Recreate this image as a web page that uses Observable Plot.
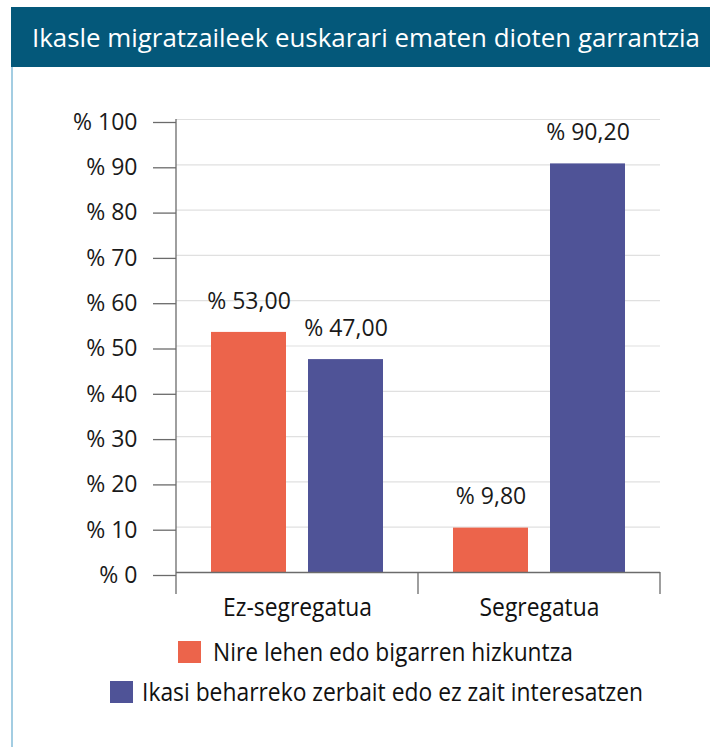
<!DOCTYPE html>
<html>
<head>
<meta charset="utf-8">
<script src="https://cdn.jsdelivr.net/npm/d3@7"></script>
<script src="https://cdn.jsdelivr.net/npm/@observablehq/plot@0.6"></script>
<style>
  html, body { margin: 0; padding: 0; background: #fff; }
  #wrap { position: relative; width: 712px; height: 747px; overflow: hidden; background: #fff; }
  #band { position: absolute; left: 11px; top: 7px; width: 699px; height: 60px; background: #04587a; }
  #leftline { position: absolute; left: 11px; top: 67px; width: 1.5px; height: 680px; background: #a3cde2; }
  .cond { font-family: "Open Sans", "Noto Sans", sans-serif; white-space: nowrap; }
  #title { position: absolute; left: 32px; top: 20px; color: #fff; font-size: 26px; line-height: 34px; display: inline-block; transform-origin: 0 50%; }
  #chart { position: absolute; left: 0; top: 68px; line-height: 0; }
  #chart svg { display: block; }
  .leg-sw { position: absolute; width: 23px; height: 22px; }
  .leg-tx { position: absolute; color: #111; font-size: 25px; line-height: 30px; display: inline-block; transform-origin: 0 50%; }
</style>
</head>
<body>
<div id="wrap">
  <div id="band"></div>
  <div id="leftline"></div>
  <div id="title" class="cond">Ikasle migratzaileek euskarari ematen dioten garrantzia</div>
  <div id="chart"></div>
  <div id="legend"></div>
</div>
<script>
// ---- data ----
const categories = ["Ez-segregatua", "Segregatua"];
const seriesNames = ["Nire lehen edo bigarren hizkuntza", "Ikasi beharreko zerbait edo ez zait interesatzen"];
const valuesNire = [53.00, 9.80];
const valuesIkasi = [47.00, 90.20];
const yTicks = [0, 10, 20, 30, 40, 50, 60, 70, 80, 90, 100];
const seriesColors = ["#ec644b", "#4f5397"];

const data = categories.flatMap((c, i) => [
  {cat: c, ser: seriesNames[0], v: valuesNire[i]},
  {cat: c, ser: seriesNames[1], v: valuesIkasi[i]}
]);
const fmt = v => "% " + v.toFixed(2).replace(".", ",");

const SANS = '"Open Sans", "Noto Sans", sans-serif';

const plot = Plot.plot({
  width: 712,
  height: 560,
  marginTop: 51,
  marginBottom: 56,
  marginLeft: 176,
  marginRight: 52,
  style: {fontFamily: SANS, fontSize: "23px", color: "#1a1a1a", background: "transparent", overflow: "visible"},
  fx: {domain: categories, paddingInner: 0, paddingOuter: 0, label: null, axis: null},
  x: {domain: seriesNames, paddingInner: 0.2245, paddingOuter: 0.347, axis: null},
  y: {domain: [0, 100], label: null, axis: null},
  color: {domain: seriesNames, range: seriesColors},
  marks: [
    Plot.gridY(yTicks.filter(t => t > 0), {stroke: "#e0e0e0", strokeOpacity: 1, strokeWidth: 1.2}),
    Plot.barY(data, {fx: "cat", x: "ser", y: "v", fill: "ser"}),
    Plot.ruleY([0], {stroke: "#6b6b6b", strokeWidth: 1.3}),
    Plot.axisY(yTicks, {
      tickSize: 23, tickPadding: 16, stroke: "#6b6b6b", strokeWidth: 1.3,
      tickFormat: d => "% " + d, fontSize: 23, dy: 3, label: null
    }),
    Plot.axisFx({anchor: "bottom", tickSize: 0, tickPadding: 26, label: null, fontSize: 25, fill: "#111"}),
    Plot.text(data, {fx: "cat", x: "ser", y: "v", text: d => fmt(d.v), dy: -31, fontSize: 23, fill: "#1a1a1a"})
  ]
});
document.getElementById("chart").appendChild(plot);

// axis line and category separators, positioned from the plot's own scales
const fxS = plot.scale("fx");
const yS = plot.scale("y");
const bw = fxS.bandwidth;
const xEdges = categories.map(c => fxS.apply(c)).concat([fxS.apply(categories[categories.length - 1]) + bw]);
const y0 = yS.apply(0), yTop = yS.apply(100);
const svg = d3.select(plot);
svg.append("line").attr("x1", xEdges[0]).attr("x2", xEdges[0]).attr("y1", yTop).attr("y2", y0 + 22)
  .attr("stroke", "#6b6b6b").attr("stroke-width", 1.3);
xEdges.slice(1).forEach(x => {
  svg.append("line").attr("x1", x).attr("x2", x).attr("y1", y0).attr("y2", y0 + 22)
    .attr("stroke", "#6b6b6b").attr("stroke-width", 1.3);
});

// legend (HTML, below the chart)
const legend = document.getElementById("legend");
const legRows = [
  {sw: 178, top: 641, tx: 213, target: 360},
  {sw: 110, top: 681, tx: 142, target: 501}
];
function fitX(el, target) {
  const w = el.getBoundingClientRect().width;
  const k = target / w;
  el.style.transform = `scaleX(${k})`;
  return k;
}
let kLeg = 1;
seriesNames.forEach((s, i) => {
  const r = legRows[i];
  const sw = document.createElement("div");
  sw.className = "leg-sw";
  sw.style.left = r.sw + "px"; sw.style.top = r.top + "px";
  sw.style.background = seriesColors[i];
  legend.appendChild(sw);
  const tx = document.createElement("div");
  tx.className = "leg-tx cond";
  tx.textContent = s;
  tx.style.left = r.tx + "px"; tx.style.top = (r.top + 11 - 15 - 1) + "px";
  legend.appendChild(tx);
  kLeg = fitX(tx, r.target);
});
fitX(document.getElementById("title"), 668);

// condense the category labels in the same way as the legend text
svg.selectAll("text").each(function() {
  const t = this.textContent.trim();
  if (categories.includes(t)) {
    const tr = this.getAttribute("transform") || "";
    this.setAttribute("transform", (tr + ` scale(${kLeg},1)`).trim());
  }
});
</script>
</body>
</html>
